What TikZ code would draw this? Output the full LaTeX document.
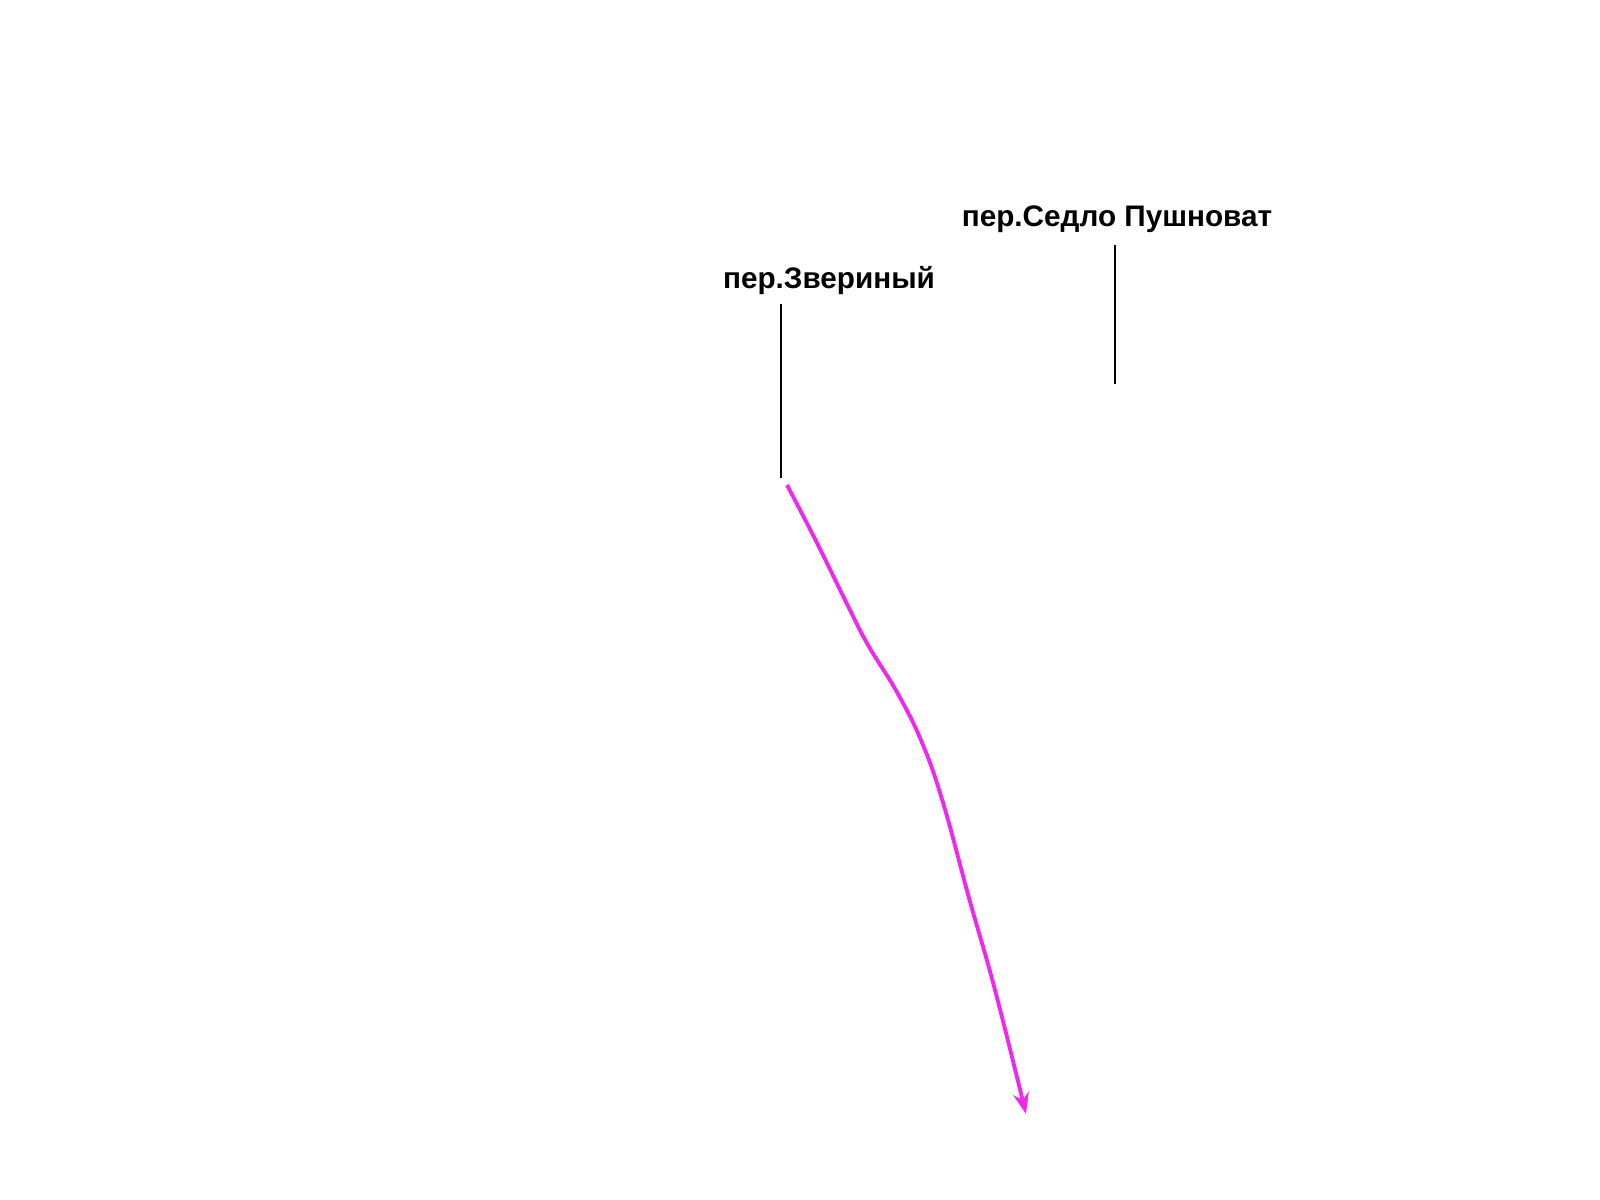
\documentclass[tikz,border=0pt]{standalone}
\usepackage{fontspec}
\setmainfont{Liberation Sans}
\usetikzlibrary{arrows.meta}
\definecolor{route}{RGB}{238,40,238}
\begin{document}
\begin{tikzpicture}[x=0.01cm,y=-0.01cm]
        \useasboundingbox (0,0) rectangle (1600,1200);
        \node[font=\bfseries\fontsize{8.45}{10}\selectfont] (zver) at (829,281) {пер.Звериный};
        \node[font=\bfseries\fontsize{8.45}{10}\selectfont] (sedlo) at (1117,219) {пер.Седло Пушноват};
        \coordinate (zverend) at (781,478);
        \coordinate (sedloend) at (1115,384);
        \draw [line width=0.6pt] (zver.south -| zverend) ++(0,-4) -- (zverend);
        \draw [line width=0.6pt] (sedlo.south -| sedloend) ++(0,0) -- (sedloend);
        \draw [route, line width=1.1pt, -{Stealth[length=6pt,width=4.5pt]}] plot[smooth, tension=0.7] coordinates
        {(787,485) (816,541) (848,606) (868,645) (898,694) (923,745) (944,806) (969,898) (995,990) (1026,1114)};
    \end{tikzpicture}
\end{document}
